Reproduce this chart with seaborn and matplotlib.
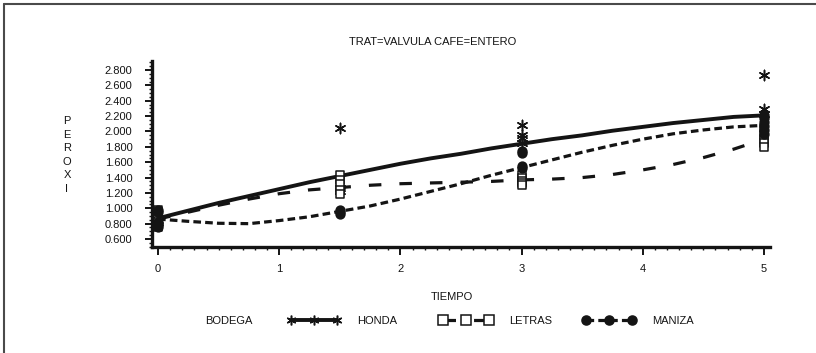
import matplotlib
matplotlib.use("Agg")
import pandas as pd
import seaborn as sns
import matplotlib.pyplot as plt
from matplotlib.lines import Line2D
from matplotlib.ticker import MultipleLocator, FormatStrFormatter

# curvas suavizadas
tiempo_curva = [0, 0.25, 0.5, 0.75, 1, 1.25, 1.5, 1.75, 2, 2.25, 2.5,
                2.75, 3, 3.25, 3.5, 3.75, 4, 4.25, 4.5, 4.75, 5]
honda_curva = [0.87, 0.97, 1.07, 1.16, 1.25, 1.34, 1.42, 1.50, 1.58, 1.65, 1.71,
               1.78, 1.84, 1.90, 1.95, 2.01, 2.06, 2.11, 2.15, 2.19, 2.21]
letras_curva = [0.86, 0.95, 1.04, 1.12, 1.19, 1.24, 1.27, 1.30, 1.32, 1.33, 1.34,
                1.35, 1.37, 1.38, 1.40, 1.44, 1.50, 1.57, 1.66, 1.77, 1.90]
maniza_curva = [0.86, 0.83, 0.805, 0.80, 0.84, 0.89, 0.96, 1.03, 1.12, 1.22, 1.32,
                1.43, 1.53, 1.63, 1.73, 1.82, 1.90, 1.97, 2.02, 2.06, 2.08]

# observaciones
honda_t = [0, 0, 1.5, 1.5, 1.5, 3, 3, 3, 3, 5, 5, 5]
honda_y = [0.85, 0.82, 2.05, 1.26, 1.22, 2.08, 1.96, 1.91, 1.85, 2.73, 2.29, 2.23]
letras_t = [0, 0, 0, 0, 0, 1.5, 1.5, 1.5, 1.5, 1.5, 3, 3, 3, 3, 3, 5, 5, 5, 5, 5]
letras_y = [0.98, 0.95, 0.82, 0.78, 0.75, 1.43, 1.37, 1.31, 1.24, 1.18,
            1.43, 1.40, 1.36, 1.33, 1.30, 2.05, 1.95, 1.90, 1.85, 1.80]
maniza_t = [0, 0, 0, 0, 0, 1.5, 1.5, 1.5, 3, 3, 3, 3, 5, 5, 5, 5, 5, 5]
maniza_y = [0.98, 0.95, 0.82, 0.78, 0.75, 0.98, 0.95, 0.92, 1.75, 1.72, 1.55, 1.52,
            2.22, 2.17, 2.12, 2.07, 2.02, 1.97]

y_ticks = [0.6, 0.8, 1.0, 1.2, 1.4, 1.6, 1.8, 2.0, 2.2, 2.4, 2.6, 2.8]
x_ticks = [0, 1, 2, 3, 4, 5]

sns.set_style("ticks")
plt.rcParams["font.family"] = ["Liberation Sans", "DejaVu Sans"]
plt.rcParams["lines.scale_dashes"] = False
ink = "#141414"

fig = plt.figure(figsize=(8.16, 3.53), dpi=100)
ax = fig.add_axes([152 / 816, 1 - 247 / 353, 618 / 816, 186 / 353])

estilos = {
    "HONDA": dict(curva=honda_curva, t=honda_t, y=honda_y, ls="-", lw=2.8,
                  marker=(6, 2, 0), s=55, fc=ink),
    "LETRAS": dict(curva=letras_curva, t=letras_t, y=letras_y, ls=(0, (9, 13)), lw=2.3,
                   marker="s", s=38, fc="white"),
    "MANIZA": dict(curva=maniza_curva, t=maniza_t, y=maniza_y, ls=(0, (5.5, 3)), lw=2.3,
                   marker="o", s=40, fc=ink),
}

for nombre, e in estilos.items():
    sns.lineplot(x=tiempo_curva, y=e["curva"], ax=ax, color=ink,
                 linestyle=e["ls"], lw=e["lw"], zorder=2)
    sns.scatterplot(x=e["t"], y=e["y"], ax=ax, marker=e["marker"], s=e["s"],
                    color=ink, facecolor=e["fc"], edgecolor=ink, linewidth=1.1,
                    zorder=3, clip_on=False)

ax.set_xlim(-0.05, 5.05)
ax.set_ylim(0.496, 2.918)
ax.set_xticks(x_ticks)
ax.set_yticks(y_ticks)
ax.xaxis.set_minor_locator(MultipleLocator(0.1))
ax.yaxis.set_minor_locator(MultipleLocator(0.05))
ax.yaxis.set_major_formatter(FormatStrFormatter("%.3f"))
ax.tick_params(axis="both", which="major", labelsize=8, colors=ink, width=1.4)
ax.tick_params(axis="x", which="major", length=6, pad=6)
ax.tick_params(axis="y", which="major", length=5, pad=9)
ax.tick_params(axis="both", which="minor", length=2.5, width=1, colors=ink)
for lado in ["top", "right"]:
    ax.spines[lado].set_visible(False)
for lado in ["left", "bottom"]:
    ax.spines[lado].set_linewidth(2.4)
    ax.spines[lado].set_color(ink)
ax.set_xlabel("")
ax.set_ylabel("")

fig.text(433 / 816, 1 - 42 / 353, "TRAT=VALVULA CAFE=ENTERO", ha="center", va="center",
         fontsize=8, color=ink)
fig.text(67 / 816, 1 - 155 / 353, "\n".join("PEROXI"), ha="center", va="center",
         fontsize=8, color=ink, linespacing=1.43)
fig.text(452 / 816, 1 - 297 / 353, "TIEMPO", ha="center", va="center", fontsize=8, color=ink)
fig.text(205 / 816, 1 - 321 / 353, "BODEGA", ha="left", va="center", fontsize=8, color=ink)

# leyenda: una entrada por bodega
inicio = {"HONDA": 288, "LETRAS": 440, "MANIZA": 583}
for nombre, e in estilos.items():
    h = Line2D([], [], color=ink, ls=e["ls"], lw=e["lw"], marker=e["marker"],
               markersize=7 if nombre == "HONDA" else 6.5, markerfacecolor=e["fc"],
               markeredgecolor=ink, markeredgewidth=1.1)
    leg = fig.legend([h], [nombre], loc="center left",
                     bbox_to_anchor=(inicio[nombre] / 816, 1 - 321 / 353),
                     frameon=False, fontsize=8, numpoints=3, handlelength=4.7,
                     handletextpad=1.5, borderpad=0, borderaxespad=0)
    for txt in leg.get_texts():
        txt.set_color(ink)

# marco parcial de la figura
fig.add_artist(Line2D([4 / 816, 1], [1 - 4 / 353, 1 - 4 / 353], transform=fig.transFigure,
                      color="#4a4a4a", lw=1.5))
fig.add_artist(Line2D([4 / 816, 4 / 816], [0, 1 - 4 / 353], transform=fig.transFigure,
                      color="#4a4a4a", lw=1.5))

fig.savefig("out.png", dpi=100)
